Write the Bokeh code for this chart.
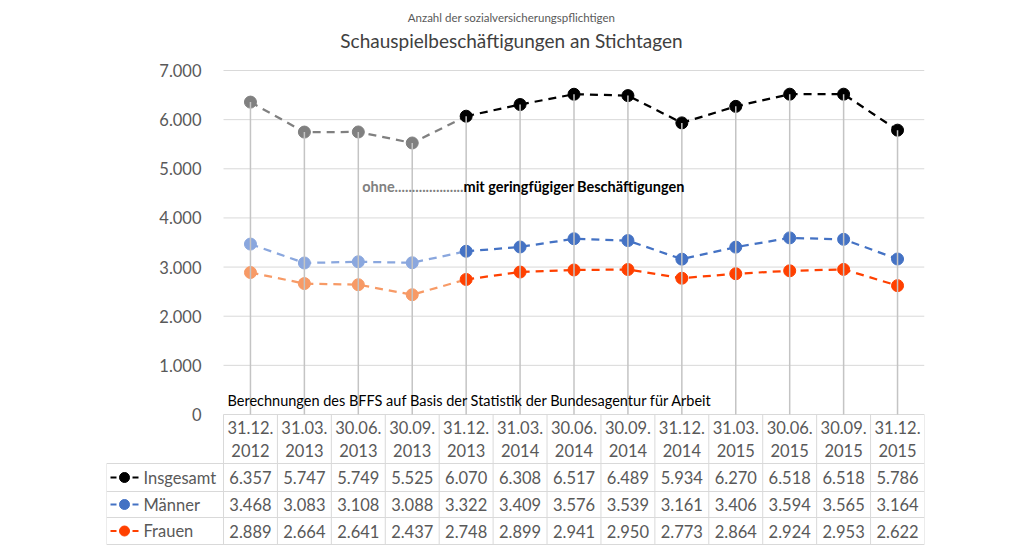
from bokeh.plotting import figure
from bokeh.models import Range1d, FixedTicker, Label
from bokeh.embed import file_html
from bokeh.resources import INLINE
from bokeh.core.properties import value

# ---------------- data ----------------
dates = ["31.12.2012", "31.03.2013", "30.06.2013", "30.09.2013", "31.12.2013",
         "31.03.2014", "30.06.2014", "30.09.2014", "31.12.2014", "31.03.2015",
         "30.06.2015", "30.09.2015", "31.12.2015"]
insgesamt = [6357, 5747, 5749, 5525, 6070, 6308, 6517, 6489, 5934, 6270, 6518, 6518, 5786]
maenner = [3468, 3083, 3108, 3088, 3322, 3409, 3576, 3539, 3161, 3406, 3594, 3565, 3164]
frauen = [2889, 2664, 2641, 2437, 2748, 2899, 2941, 2950, 2773, 2864, 2924, 2953, 2622]
series_names = ["Insgesamt", "Männer", "Frauen"]
ohne_count = 4  # first dates counted without geringfügige Beschäftigungen

y_ticks = [0, 1000, 2000, 3000, 4000, 5000, 6000, 7000]
y_tick_labels = ["0", "1.000", "2.000", "3.000", "4.000", "5.000", "6.000", "7.000"]

subtitle = "Anzahl der sozialversicherungspflichtigen"
title = "Schauspielbeschäftigungen an Stichtagen"
source_note = "Berechnungen des BFFS auf Basis der Statistik der Bundesagentur für Arbeit"
note_ohne = "ohne...................."
note_mit = "mit geringfügiger Beschäftigungen"

# ---------------- styles ----------------
dark_colors = ["#000000", "#4472C4", "#FF4000"]
light_colors = ["#808080", "#8AA7DE", "#F79A66"]
FONT = "Lato"
TXT = "#595959"
GRID = "#D9D9D9"

W = 701 / 13          # px per category
K = 344 / 7000        # px per unit


def xv(px):
    return (px - 223) / W - 0.5


def yv(py):
    return (414 - py) / K


def fmt(v):
    return f"{v:,}".replace(",", ".")


series = [insgesamt, maenner, frauen]
n = len(dates)
xs = list(range(n))

p = figure(width=1016, height=546, x_range=Range1d(xv(106), 12.5),
           y_range=Range1d(yv(546), yv(0)),
           output_backend="svg", toolbar_location=None,
           min_border_left=106, min_border_right=92,
           min_border_top=0, min_border_bottom=0)
p.outline_line_color = None
p.xaxis.visible = False
p.grid.visible = False

yax = p.yaxis[0]
yax.fixed_location = -0.5
yax.ticker = FixedTicker(ticks=y_ticks)
yax.major_label_overrides = {t: l for t, l in zip(y_ticks, y_tick_labels)}
yax.axis_line_color = None
yax.major_tick_line_color = None
yax.minor_tick_line_color = None
yax.major_label_standoff = 16
yax.major_label_text_font = FONT
yax.major_label_text_font_size = "16.5px"
yax.major_label_text_color = TXT

# horizontal gridlines over the plot area
p.segment([-0.5] * len(y_ticks), y_ticks, [12.5] * len(y_ticks), y_ticks,
          line_color=GRID, line_width=1)

# data table grid
borders = [i - 0.5 for i in range(n + 1)]
p.segment(borders, [0] * (n + 1), borders, [yv(544)] * (n + 1),
          line_color=GRID, line_width=1)
row_lines = [463, 491, 517, 544]
p.segment([xv(106)] * 4, [yv(r) for r in row_lines], [12.5] * 4,
          [yv(r) for r in row_lines], line_color=GRID, line_width=1)
p.segment([xv(106)], [yv(463)], [xv(106)], [yv(544)],
          line_color=GRID, line_width=1)

for vals, dc, lc in zip(series, dark_colors, light_colors):
    p.line(xs[:ohne_count + 1], vals[:ohne_count + 1], line_color=lc,
           line_width=2.25, line_dash="8 6")
    p.line(xs[ohne_count:], vals[ohne_count:], line_color=dc,
           line_width=2.25, line_dash="8 6")
    p.scatter(xs[:ohne_count], vals[:ohne_count], size=12, fill_color=lc,
              line_color=lc)
    p.scatter(xs[ohne_count:], vals[ohne_count:], size=12, fill_color=dc,
              line_color=dc)

# drop lines
tops = [max(v) for v in zip(*series)]
p.segment(xs, [0] * n, xs, tops, line_color="#C4C4C4", line_width=1.5)

# table header
p.text(xs, [yv(427)] * n, text=[d[:6] for d in dates], text_align="center",
       text_baseline="middle", text_font=value(FONT), text_font_size="16.5px",
       text_color=TXT)
p.text(xs, [yv(450)] * n, text=[d[6:] for d in dates], text_align="center",
       text_baseline="middle", text_font=value(FONT), text_font_size="16.5px",
       text_color=TXT)

# table rows
row_centers = [477, 504, 530.5]
for vals, name, dc, yc in zip(series, series_names, dark_colors, row_centers):
    y = yv(yc)
    p.text(xs, [y] * n, text=[fmt(v) for v in vals], text_align="center",
           text_baseline="middle", text_font=value(FONT),
           text_font_size="16.5px", text_color=TXT)
    p.text([xv(143)], [y], text=[name], text_align="left",
           text_baseline="middle", text_font=value(FONT),
           text_font_size="16.5px", text_color=TXT)
    p.segment([xv(110), xv(132)], [y, y], [xv(116), xv(138)], [y, y],
              line_color=dc, line_width=2)
    p.scatter([xv(124)], [y], size=10, fill_color=dc, line_color=dc)

# titles and notes
p.add_layout(Label(x=xv(511), y=yv(17), text=subtitle, text_align="center",
                   text_baseline="middle", text_font=FONT,
                   text_font_size="11.5px", text_color=TXT))
p.add_layout(Label(x=xv(511), y=yv(40), text=title, text_align="center",
                   text_baseline="middle", text_font=FONT,
                   text_font_size="19px", text_color="#404040"))
p.add_layout(Label(x=xv(227), y=yv(400), text=source_note, text_align="left",
                   text_baseline="middle", text_font=FONT,
                   text_font_size="14.5px", text_color="#000000"))
p.add_layout(Label(x=xv(463), y=yv(186), text=note_ohne, text_align="right",
                   text_baseline="middle", text_font=FONT,
                   text_font_size="14.5px", text_font_style="bold",
                   text_color="#808080"))
p.add_layout(Label(x=xv(463), y=yv(186), text=note_mit, text_align="left",
                   text_baseline="middle", text_font=FONT,
                   text_font_size="14.5px", text_font_style="bold",
                   text_color="#000000"))

open("out.html", "w").write(file_html(p, INLINE))
